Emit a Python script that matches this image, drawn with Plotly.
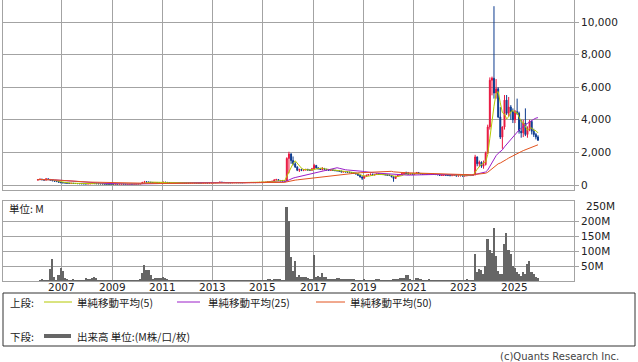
import plotly.graph_objects as go
import pandas as pd

# ---------------- data (monthly, Jan 2006 - Dec 2025) ----------------
months = pd.date_range("2006-01-01", periods=240, freq="MS") + pd.Timedelta(days=14)

open_px = [
    300, 330, 360, 320, 300, 380, 340, 300, 260, 230, 210, 170,
    140, 130, 120, 110, 100, 105, 95, 90, 85, 80, 75, 70,
    65, 70, 80, 90, 85, 80, 75, 70, 60, 50, 40, 35,
    35, 35, 40, 38, 40, 45, 42, 40, 45, 50, 48, 50,
    55, 60, 90, 160, 200, 180, 170, 160, 150, 155, 150, 145,
    150, 170, 160, 150, 145, 140, 145, 140, 135, 130, 130, 125,
    125, 125, 130, 135, 130, 125, 120, 120, 125, 130, 125, 130,
    135, 140, 145, 150, 170, 160, 150, 145, 140, 140, 145, 150,
    145, 145, 140, 140, 145, 150, 150, 155, 150, 150, 155, 160,
    165, 170, 180, 200, 210, 230, 300, 330, 280, 260, 250, 250,
    1630, 1900, 1500, 1300, 1100, 900, 950, 900, 930, 950, 920, 900,
    1000, 1200, 1050, 1000, 950, 1000, 950, 930, 900, 920, 900, 880,
    870, 850, 800, 820, 800, 780, 760, 740, 720, 680, 600, 500,
    420, 540, 600, 640, 660, 620, 640, 680, 660, 650, 640, 620,
    600, 580, 500, 400, 540, 600, 640, 700, 740, 700, 660, 680,
    660, 700, 760, 700, 680, 660, 670, 660, 690, 670, 650, 640,
    630, 590, 600, 610, 600, 580, 570, 580, 590, 550, 560, 570,
    550, 560, 600, 580, 600, 620, 1720, 1300, 1400, 1150, 1250, 1960,
    3560, 6430, 6550, 5640, 5900, 4170, 2940, 3560, 5210, 4400, 4780, 4500,
    4000, 4500, 4400, 3300, 3200, 3800, 3100, 3400, 3900, 3300, 3100, 2950,
]
high_px = [
    360, 390, 380, 340, 410, 390, 350, 310, 270, 240, 220, 180,
    160, 145, 130, 120, 115, 115, 105, 100, 95, 90, 85, 80,
    80, 90, 100, 100, 90, 85, 80, 75, 65, 55, 45, 40,
    40, 45, 42, 45, 50, 48, 45, 50, 55, 52, 55, 60,
    65, 100, 190, 250, 220, 200, 180, 170, 170, 165, 160, 165,
    200, 180, 170, 160, 150, 155, 150, 145, 140, 140, 135, 135,
    135, 140, 145, 140, 135, 130, 130, 135, 140, 135, 140, 145,
    150, 155, 160, 210, 190, 170, 160, 150, 150, 155, 170, 160,
    155, 150, 150, 155, 160, 160, 165, 160, 160, 165, 170, 175,
    180, 195, 230, 240, 260, 360, 380, 340, 290, 270, 270, 1700,
    2040, 1950, 1750, 1400, 1150, 1000, 1000, 980, 1000, 1000, 960, 1050,
    1300, 1230, 1100, 1050, 1100, 1050, 1000, 960, 950, 960, 930, 920,
    920, 880, 850, 860, 840, 820, 800, 780, 760, 700, 620, 520,
    560, 620, 660, 700, 690, 660, 700, 720, 700, 690, 680, 660,
    640, 600, 520, 560, 620, 680, 720, 780, 820, 800, 720, 720,
    720, 800, 800, 740, 720, 700, 700, 720, 720, 700, 680, 670,
    650, 620, 630, 640, 620, 610, 600, 610, 600, 580, 590, 590,
    580, 640, 630, 620, 650, 1850, 1750, 1500, 1450, 1500, 2050, 3700,
    6600, 6650, 10970, 6500, 6000, 4780, 3600, 5520, 5520, 5400, 4900, 4700,
    4600, 5300, 4500, 4000, 4000, 4700, 3600, 4000, 3950, 3450, 3200, 3050,
]
low_px = [
    280, 310, 300, 280, 290, 320, 280, 240, 210, 180, 150, 120,
    115, 110, 100, 90, 90, 85, 80, 75, 70, 65, 60, 55,
    60, 65, 75, 80, 75, 70, 60, 55, 45, 35, 30, 30,
    30, 33, 35, 35, 38, 40, 38, 38, 43, 45, 45, 48,
    50, 55, 85, 150, 170, 160, 150, 140, 140, 140, 135, 135,
    145, 150, 140, 135, 130, 135, 130, 125, 120, 120, 115, 115,
    115, 120, 125, 120, 115, 110, 110, 115, 120, 115, 120, 125,
    130, 135, 140, 145, 150, 140, 135, 130, 130, 135, 140, 135,
    135, 130, 130, 135, 140, 140, 145, 140, 140, 145, 150, 155,
    160, 165, 175, 190, 200, 220, 280, 260, 240, 230, 235, 240,
    720, 1300, 1200, 1050, 850, 800, 850, 850, 880, 880, 860, 880,
    950, 1000, 950, 920, 900, 920, 900, 880, 870, 880, 850, 840,
    820, 780, 760, 780, 760, 740, 720, 700, 650, 550, 450, 310,
    400, 520, 580, 600, 600, 580, 620, 640, 620, 610, 600, 580,
    560, 480, 200, 380, 520, 580, 620, 680, 680, 640, 620, 640,
    640, 680, 680, 660, 640, 630, 640, 640, 650, 640, 620, 610,
    570, 560, 570, 580, 560, 550, 550, 560, 540, 530, 540, 530,
    530, 540, 560, 560, 580, 600, 1150, 1100, 1050, 1000, 1200, 1900,
    3400, 5500, 5300, 5300, 4100, 2820, 2220, 3400, 4300, 4200, 4000, 3800,
    3800, 4300, 3150, 2900, 2940, 3000, 2900, 3300, 3100, 2950, 2800, 2700,
]
close_px = [
    330, 360, 320, 300, 380, 340, 300, 260, 230, 210, 170, 140,
    130, 120, 110, 100, 105, 95, 90, 85, 80, 75, 70, 65,
    70, 80, 90, 85, 80, 75, 70, 60, 50, 40, 35, 35,
    35, 40, 38, 40, 45, 42, 40, 45, 50, 48, 50, 55,
    60, 90, 160, 200, 180, 170, 160, 150, 155, 150, 145, 150,
    170, 160, 150, 145, 140, 145, 140, 135, 130, 130, 125, 125,
    125, 130, 135, 130, 125, 120, 120, 125, 130, 125, 130, 135,
    140, 145, 150, 170, 160, 150, 145, 140, 140, 145, 150, 145,
    145, 140, 140, 145, 150, 150, 155, 150, 150, 155, 160, 165,
    170, 180, 200, 210, 230, 300, 330, 280, 260, 250, 250, 1630,
    1900, 1500, 1300, 1100, 900, 950, 900, 930, 950, 920, 900, 1000,
    1200, 1050, 1000, 950, 1000, 950, 930, 900, 920, 900, 880, 870,
    850, 800, 820, 800, 780, 760, 740, 720, 680, 600, 500, 420,
    540, 600, 640, 660, 620, 640, 680, 660, 650, 640, 620, 600,
    580, 500, 400, 540, 600, 640, 700, 740, 700, 660, 680, 660,
    700, 760, 700, 680, 660, 670, 660, 690, 670, 650, 640, 630,
    590, 600, 610, 600, 580, 570, 580, 590, 550, 560, 570, 550,
    560, 600, 580, 600, 620, 1720, 1300, 1400, 1150, 1250, 1960, 3560,
    6430, 6550, 5640, 5900, 4170, 2940, 3560, 5210, 4400, 4780, 4500, 4000,
    4500, 4400, 3300, 3200, 3800, 3100, 3400, 3900, 3300, 3100, 2950, 2750,
]
volume_m = [
    0, 2, 7, 1, 1, 2, 40, 73, 13, 3, 20, 43,
    35, 9, 4, 2, 2, 7, 2, 1, 1, 1, 2, 10,
    7, 7, 10, 13, 9, 3, 1, 1, 1, 1, 1, 1,
    1, 3, 1, 1, 1, 1, 1, 1, 1, 1, 1, 1,
    1, 5, 27, 53, 37, 37, 20, 7, 9, 11, 9, 9,
    15, 11, 7, 3, 1, 1, 1, 1, 1, 1, 1, 1,
    1, 1, 1, 1, 1, 1, 1, 1, 1, 1, 1, 1,
    1, 1, 1, 3, 1, 1, 1, 1, 1, 1, 3, 1,
    1, 1, 1, 1, 1, 1, 1, 1, 1, 1, 1, 1,
    1, 3, 7, 7, 1, 7, 7, 7, 7, 3, 3, 247,
    200, 79, 32, 68, 12, 20, 14, 14, 14, 9, 7, 7,
    88, 15, 17, 14, 27, 14, 12, 7, 7, 7, 5, 9,
    9, 4, 4, 4, 4, 7, 7, 7, 3, 3, 3, 3,
    7, 3, 3, 2, 2, 2, 4, 4, 3, 3, 3, 3,
    3, 3, 7, 7, 5, 9, 11, 9, 20, 20, 7, 3,
    3, 10, 10, 7, 3, 1, 1, 4, 1, 1, 1, 1,
    1, 1, 1, 1, 1, 1, 1, 1, 1, 1, 1, 1,
    1, 7, 3, 3, 3, 90, 29, 40, 37, 23, 50, 140,
    104, 92, 177, 84, 34, 23, 23, 123, 160, 104, 90, 51,
    45, 31, 25, 18, 31, 23, 57, 66, 29, 23, 12, 9,
]
year_ticks = [str(y) for y in range(2007, 2026, 2)]
price_ticks = [0, 2000, 4000, 6000, 8000, 10000]
vol_ticks = [50, 100, 150, 200]
ma_periods = [5, 25, 50]

# ---------------- styles ----------------
RED = "#e8163f"
BLUE = "#0c3b8f"
MA_COLORS = ["#b4c800", "#9b1fc8", "#e2531e"]
VOL_COLOR = "#666666"
GRID = "#a3a3a3"
TXT = "#222222"
NUM_FONT = "DejaVu Sans"
JP_FONT = "Noto Sans CJK JP"

W, H = 638, 362
L_PX, R_PX, T_PX, B_PX = 3, 574, 0, 281


def px(x):
    return (x - L_PX) / (R_PX - L_PX)


def py(y):
    return (B_PX - y) / (B_PX - T_PX)


close_s = pd.Series(close_px, index=months)

fig = go.Figure()
fig.add_trace(go.Candlestick(
    x=months, open=open_px, high=high_px, low=low_px, close=close_px,
    xaxis="x2", yaxis="y2", whiskerwidth=0,
    increasing=dict(line=dict(color=RED, width=1), fillcolor=RED),
    decreasing=dict(line=dict(color=BLUE, width=1), fillcolor=BLUE),
    hoverinfo="skip", showlegend=False,
))
for p, c in zip(ma_periods, MA_COLORS):
    ma = close_s.rolling(p, min_periods=1).mean()
    fig.add_trace(go.Scatter(x=months, y=ma.values, mode="lines",
                             line=dict(color=c, width=1),
                             xaxis="x2", yaxis="y2", hoverinfo="skip",
                             showlegend=False))
fig.add_trace(go.Bar(x=months, y=volume_m, marker=dict(color=VOL_COLOR, line=dict(width=0)),
                     width=24 * 86400000, xaxis="x", yaxis="y",
                     hoverinfo="skip", showlegend=False))

xrange = ["2004-08-26", "2027-05-23"]
tickvals_x = [f"{y}-01-01" for y in year_ticks]
common_x = dict(type="date", range=xrange, tickvals=tickvals_x, showgrid=True,
                gridcolor=GRID, gridwidth=1, showline=True, mirror=True,
                linecolor=GRID, linewidth=1, ticks="", zeroline=False,
                showticklabels=False)
common_y = dict(side="right", showgrid=True, gridcolor=GRID, gridwidth=1,
                showline=True, mirror=True, linecolor=GRID, linewidth=1,
                ticks="outside", ticklen=4, tickcolor=GRID, zeroline=False,
                tickfont=dict(family=NUM_FONT, size=10.5, color=TXT))

fig.update_layout(
    width=W, height=H,
    margin=dict(l=L_PX, r=W - R_PX, t=T_PX, b=H - B_PX, pad=0),
    paper_bgcolor="white", plot_bgcolor="white",
    showlegend=False, bargap=0,
    xaxis=dict(**common_x, anchor="y", domain=[0, 1]),
    xaxis2=dict(**common_x, anchor="y2", domain=[0, 1], matches="x",
                rangeslider=dict(visible=False)),
    yaxis=dict(**common_y, anchor="x", domain=[0, py(201)], range=[0, 267],
               tickvals=vol_ticks, ticktext=[f"{v}M" for v in vol_ticks]),
    yaxis2=dict(**common_y, anchor="x2", domain=[py(190), 1],
                range=[-307, 11350], tickvals=price_ticks, tickformat=","),
)

shapes = [
    dict(type="rect", xref="paper", yref="paper", x0=px(3), x1=px(635),
         y0=py(293), y1=py(346), line=dict(color="#333333", width=1)),
]
for (x0, x1), c in zip([(44, 72), (177, 200), (316, 345)], MA_COLORS):
    shapes.append(dict(type="line", xref="paper", yref="paper", x0=px(x0), x1=px(x1),
                       y0=py(302), y1=py(302), line=dict(color=c, width=1)))
shapes.append(dict(type="line", xref="paper", yref="paper", x0=px(44), x1=px(71),
                   y0=py(336), y1=py(336), line=dict(color=VOL_COLOR, width=4)))
fig.update_layout(shapes=shapes)


def ann(text, x, y, anchor="left", size=10.5, family=JP_FONT, color=TXT, xref="paper"):
    fig.add_annotation(text=text, xref=xref, yref="paper",
                       x=px(x) if xref == "paper" else x, y=py(y),
                       xanchor=anchor, yanchor="middle", showarrow=False,
                       font=dict(family=family, size=size, color=color))


# year labels under the volume panel, positioned on the date axis
for yv, yt in zip(tickvals_x, year_ticks):
    ann(yt, yv, 287, anchor="center", family=NUM_FONT, xref="x")

ann("上段:", 8, 302)
ann("単純移動平均(5)", 75, 302)
ann("単純移動平均(25)", 206, 302)
ann("単純移動平均(50)", 348, 302)
ann("下段:", 8, 336)
ann("出来高 単位:(M株/口/枚)", 75, 336)
ann("(c)Quants Research Inc.", 621, 356, anchor="right", size=10, family=NUM_FONT, color="#444444")
ann("単位: M", 7, 209)
ann("250M", 584, 206, family=NUM_FONT)

fig.write_html("out.html")
